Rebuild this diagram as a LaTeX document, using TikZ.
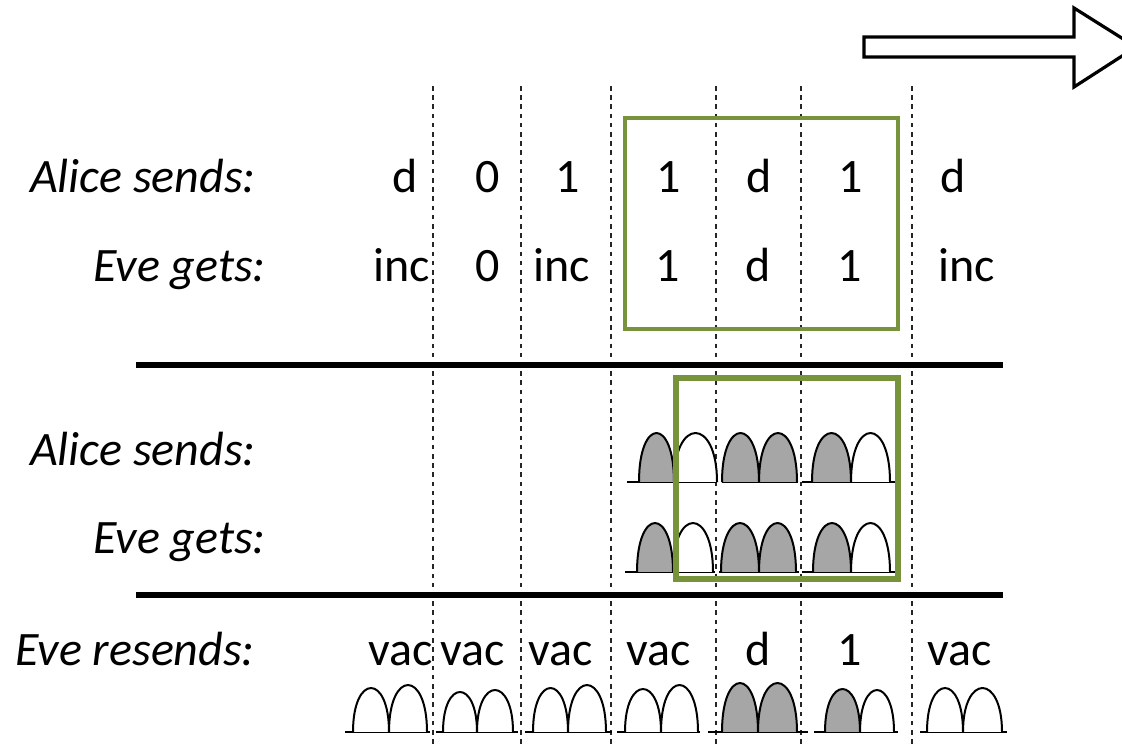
\documentclass[tikz,border=0pt]{standalone}
\usepackage{fontspec}
\setmainfont{Carlito}
\definecolor{boxgreen}{HTML}{77933C}
\definecolor{pulsegray}{HTML}{A6A6A6}
\tikzset{
  lbl/.style={anchor=base east, inner sep=0pt, font=\fontsize{48}{57}\selectfont\itshape},
  val/.style={anchor=base, inner sep=0pt, font=\fontsize{48}{57}\selectfont},
  slot/.style={draw=black!85, line width=1.3pt, dash pattern=on 4.6pt off 4.6pt},
  rule/.style={line width=6pt},
  frame1/.style={draw=boxgreen, line width=3.5pt},
  frame2/.style={draw=boxgreen, line width=5.5pt},
  pulse/.style={draw=black, line width=2pt, line join=round},
  base/.style={line width=2pt},
}
% one optical pulse: left x, right x, baseline y, height, fill colour
\newcommand\pulsearch[5]{%
  \filldraw[pulse, fill=#5] (#1,#3) .. controls (#1,#3-1.333*#4) and (#2,#3-1.333*#4) .. (#2,#3);}
\begin{document}
\begin{tikzpicture}[x=1pt, y=-1pt]
\useasboundingbox (0,0) rectangle (1122,748);
\clip (0,0) rectangle (1122,748);

% time-slot separators
\foreach \sx in {433,521,611,716,801,912}
  \draw[slot] (\sx,86) -- (\sx,745);

% direction of time
\draw[line width=3.2pt, line join=miter, fill=white]
  (864,37) -- (1074,37) -- (1074,8) -- (1136,47) -- (1074,87) -- (1074,57) -- (864,57) -- cycle;

% logical view
\node[lbl] (as1) at (256,192) {Alice sends:};
\node[lbl] (eg1) at (266,281) {Eve gets:};
\foreach \vx/\t [count=\i] in {405/d,488/0,568/1,669/1,759/d,851/1,953/d}
  \node[val] (a\i) at (\vx,192) {\t};
\foreach \vx/\t [count=\i] in {402/inc,488/0,562/inc,668/1,758/d,850/1,967/inc}
  \node[val] (e\i) at (\vx,281) {\t};
\draw[frame1] (625,118) rectangle (898,329);

\draw[rule] (136,365) -- (1003,365);
\draw[rule] (136,595) -- (1003,595);

% pulse view
\node[lbl] (as2) at (256,465) {Alice sends:};
\node[lbl] (eg2) at (266,553) {Eve gets:};

\foreach \la/\lb in {627/717,722/798,802/895}
  \draw[base] (\la,482) -- (\lb,482);
\pulsearch{639}{674}{482}{49}{pulsegray}
\pulsearch{674}{717}{482}{49}{white}
\pulsearch{722}{759}{482}{49}{pulsegray}
\pulsearch{759}{797}{482}{49}{pulsegray}
\pulsearch{812}{851}{482}{49}{pulsegray}
\pulsearch{851}{890}{482}{49}{white}

\foreach \la/\lb in {625/715,719/799,802/895}
  \draw[base] (\la,572) -- (\lb,572);
\pulsearch{637}{673}{572}{49}{pulsegray}
\pulsearch{673}{713}{572}{49}{white}
\pulsearch{721}{759}{572}{49}{pulsegray}
\pulsearch{759}{796}{572}{49}{pulsegray}
\pulsearch{813}{851}{572}{49}{pulsegray}
\pulsearch{851}{890}{572}{49}{white}

\draw[frame2] (676,378) rectangle (898,579);

% resent states
\node[lbl] (er) at (255,665) {Eve resends:};
\foreach \vx/\t [count=\i] in {401/vac,473/vac,561/vac,659/vac,758/d,850/1,960/vac}
  \node[val] (r\i) at (\vx,665) {\t};

\foreach \la/\lb in {345/430,436/518,525/612,617/700,708/808,814/898,920/1007}
  \draw[base] (\la,732) -- (\lb,732);
\pulsearch{353}{389}{732}{44}{white}
\pulsearch{389}{427}{732}{47}{white}
\pulsearch{443}{477}{732}{40}{white}
\pulsearch{477}{513}{732}{42}{white}
\pulsearch{533}{568}{732}{44}{white}
\pulsearch{568}{606}{732}{47}{white}
\pulsearch{625}{661}{732}{43}{white}
\pulsearch{661}{698}{732}{47}{white}
\pulsearch{722}{758}{732}{49}{pulsegray}
\pulsearch{758}{797}{732}{49}{pulsegray}
\pulsearch{825}{860}{732}{43}{pulsegray}
\pulsearch{860}{894}{732}{42}{white}
\pulsearch{927}{963}{732}{44}{white}
\pulsearch{963}{1002}{732}{44}{white}
\end{tikzpicture}
\end{document}
